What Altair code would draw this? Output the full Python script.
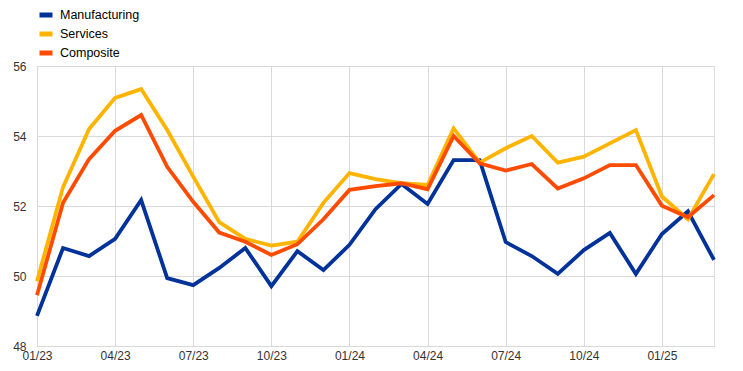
import altair as alt
import pandas as pd

months = ["01/23","02/23","03/23","04/23","05/23","06/23","07/23","08/23","09/23","10/23","11/23","12/23",
          "01/24","02/24","03/24","04/24","05/24","06/24","07/24","08/24","09/24","10/24","11/24","12/24",
          "01/25","02/25","03/25"]
tick_labels = ["01/23","04/23","07/23","10/23","01/24","04/24","07/24","10/24","01/25"]

manufacturing = [48.86, 50.80, 50.57, 51.06, 52.17, 49.94, 49.74, 50.23, 50.80, 49.71, 50.71, 50.17,
                 50.89, 51.91, 52.63, 52.06, 53.31, 53.31, 50.97, 50.57, 50.06, 50.74, 51.23, 50.06,
                 51.20, 51.85, 50.46]
services = [49.85, 52.54, 54.20, 55.09, 55.34, 54.17, 52.84, 51.54, 51.06, 50.87, 50.98, 52.09,
            52.94, 52.77, 52.65, 52.60, 54.22, 53.24, 53.65, 54.00, 53.24, 53.41, 53.79, 54.17,
            52.27, 51.62, 52.91]
composite = [49.45, 52.09, 53.34, 54.15, 54.60, 53.12, 52.12, 51.24, 50.98, 50.60, 50.91, 51.62,
             52.46, 52.57, 52.65, 52.48, 54.00, 53.22, 53.01, 53.20, 52.50, 52.79, 53.17, 53.17,
             52.01, 51.68, 52.31]

series_names = ["Manufacturing", "Services", "Composite"]
series_colors = ["#003299", "#FFB400", "#FF4B00"]

rows = []
for name, vals in zip(series_names, [manufacturing, services, composite]):
    for i, (m, v) in enumerate(zip(months, vals)):
        rows.append({"idx": i, "month": m, "value": v, "series": name,
                     "order": series_names.index(name)})
df = pd.DataFrame(rows)

label_js = "[" + ",".join(f"'{t}'" for t in tick_labels) + "]"

chart = alt.Chart(df).mark_line(strokeWidth=3.8, strokeJoin="miter").encode(
    x=alt.X("idx:Q",
            scale=alt.Scale(domain=[0, len(months) - 1], nice=False, zero=False),
            axis=alt.Axis(values=list(range(0, len(months), 3)),
                          labelExpr=f"{label_js}[round(datum.value/3)]",
                          title=None, grid=True, gridColor="#d9d9d9", ticks=False,
                          domainColor="#d9d9d9", labelFont="Liberation Sans",
                          labelFontSize=12, labelColor="#333333", labelPadding=4,
                          labelFlush=False, labelOverlap=False)),
    y=alt.Y("value:Q",
            scale=alt.Scale(domain=[48, 56], nice=False, zero=False),
            axis=alt.Axis(values=[48, 50, 52, 54, 56], title=None, grid=True,
                          gridColor="#d9d9d9", ticks=False, domain=False,
                          labelFont="Liberation Sans", labelFontSize=12,
                          labelColor="#333333", labelPadding=11)),
    color=alt.Color("series:N",
                    scale=alt.Scale(domain=series_names, range=series_colors),
                    sort=series_names,
                    legend=alt.Legend(title=None, orient="none", legendX=0, legendY=-60,
                                      padding=0, offset=0,
                                      symbolType="stroke", symbolStrokeWidth=5,
                                      symbolSize=169, labelFont="Liberation Sans",
                                      labelFontSize=12.5, labelColor="#000000",
                                      rowPadding=-3, labelOffset=5)),
    order=alt.Order("order:Q"),
    detail="series:N",
).properties(
    width=677, height=280,
    autosize=alt.AutoSizeParams(type="none"),
    padding={"left": 29, "top": 58, "right": 21, "bottom": 17},
).configure_view(stroke=None).configure(background="white")

chart.save("out.html", embed_options={"renderer": "svg", "actions": False})
